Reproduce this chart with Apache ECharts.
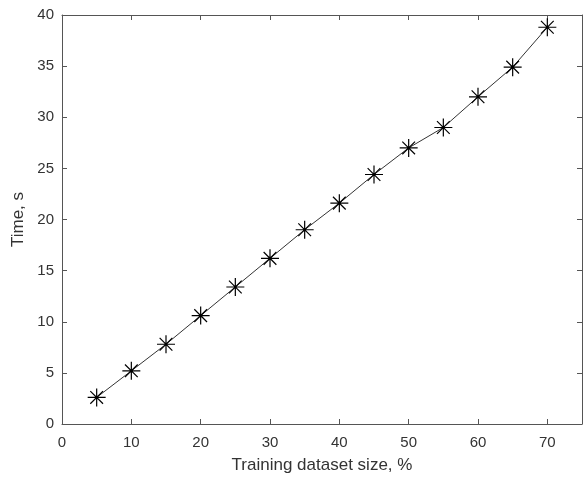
<!DOCTYPE html>
<html><head><meta charset="utf-8">
<script src="https://cdn.jsdelivr.net/npm/echarts@6/dist/echarts.min.js"></script>
<style>html,body{margin:0;padding:0;background:#fff}#c{width:585px;height:479px}</style>
</head><body><div id="c"></div>
<script>
const sizes = [5,10,15,20,25,30,35,40,45,50,55,60,65,70];
const times = [2.6,5.2,7.8,10.6,13.4,16.2,19.0,21.6,24.4,27.0,29.0,32.0,34.9,38.8];
const xTicks = [0,10,20,30,40,50,60,70];
const yTicks = [0,5,10,15,20,25,30,35,40];

const axisCol = '#555';
const txtCol = '#333';
const font = 'Liberation Sans, Arial, sans-serif';
const chart = echarts.init(document.getElementById('c'));
const baseX = {type:'value',min:0,max:75,interval:10,
  axisLine:{show:true,onZero:false,lineStyle:{color:axisCol,width:1}},
  axisTick:{show:true,inside:true,length:5,lineStyle:{color:axisCol}},
  splitLine:{show:false}};
const baseY = {type:'value',min:0,max:40,interval:5,
  axisLine:{show:true,onZero:false,lineStyle:{color:axisCol,width:1}},
  axisTick:{show:true,inside:true,length:5,lineStyle:{color:axisCol}},
  splitLine:{show:false}};
chart.setOption({
  animation:false,
  grid:{left:62,right:3,top:15,bottom:53,containLabel:false},
  xAxis:[
    Object.assign({},baseX,{position:'bottom',name:'Training dataset size, %',nameLocation:'middle',nameGap:33,
      nameTextStyle:{color:txtCol,fontSize:17,fontFamily:font},
      axisLabel:{color:txtCol,fontSize:15,fontFamily:font,margin:11,showMaxLabel:false,
        formatter:v=>xTicks.includes(v)?String(v):''}}),
    Object.assign({},baseX,{position:'top',axisLabel:{show:false}})
  ],
  yAxis:[
    Object.assign({},baseY,{position:'left',name:'Time, s',nameLocation:'middle',nameGap:31,
      nameTextStyle:{color:txtCol,fontSize:17,fontFamily:font},
      axisLabel:{color:txtCol,fontSize:15,fontFamily:font,margin:8,
        formatter:v=>yTicks.includes(v)?String(v):''}}),
    Object.assign({},baseY,{position:'right',axisLabel:{show:false}})
  ],
  series:[{
    type:'line',
    data:sizes.map((s,i)=>[s,times[i]]),
    lineStyle:{color:'#333',width:1},
    symbol:'path://M0,-10L0,10M-10,0L10,0M-7.07,-7.07L7.07,7.07M-7.07,7.07L7.07,-7.07',
    symbolSize:18,
    showAllSymbol:true,
    itemStyle:{color:'none',borderColor:'#000',borderWidth:1.2}
  }]
});
</script></body></html>
